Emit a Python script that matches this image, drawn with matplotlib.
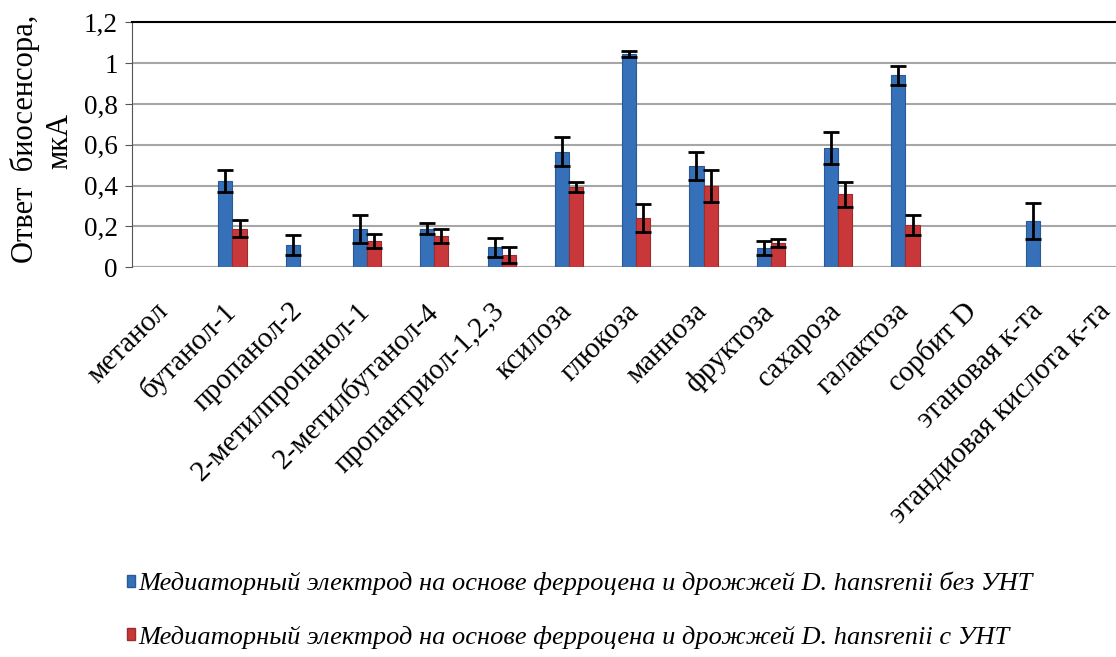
import numpy as np
import matplotlib.pyplot as plt
import matplotlib.transforms as mtransforms
from matplotlib.patches import Patch

plt.rcParams['font.family'] = ['Liberation Serif', 'DejaVu Serif']

categories = ['метанол', 'бутанол-1', 'пропанол-2', '2-метилпропанол-1',
              '2-метилбутанол-4', 'пропантриол-1,2,3', 'ксилоза', 'глюкоза',
              'манноза', 'фруктоза', 'сахароза', 'галактоза', 'сорбит D',
              'этановая к-та', 'этандиовая кислота к-та']

# без УНТ
blue_vals = [0, 0.423, 0.109, 0.186, 0.19, 0.098, 0.566, 1.043, 0.498, 0.096, 0.584, 0.94, 0, 0.227, 0]
blue_err = [0, 0.054, 0.047, 0.068, 0.026, 0.047, 0.07, 0.015, 0.069, 0.034, 0.077, 0.047, 0, 0.09, 0]
# с УНТ
red_vals = [0, 0.19, 0, 0.129, 0.152, 0.059, 0.395, 0.24, 0.398, 0.12, 0.357, 0.207, 0, 0, 0]
red_err = [0, 0.042, 0, 0.036, 0.034, 0.038, 0.025, 0.068, 0.077, 0.021, 0.063, 0.049, 0, 0, 0]

labels = ['Медиаторный электрод на основе ферроцена и дрожжей D. hansrenii без УНТ',
          'Медиаторный электрод на основе ферроцена и дрожжей D. hansrenii с УНТ']

blue = '#3570B8'
red = '#C8383A'

fig = plt.figure(figsize=(11.16, 6.57), dpi=100)
ax = fig.add_axes([131.5 / 1116, 1 - 267.3 / 657, (1141 - 131.5) / 1116, 245 / 657])

x = np.arange(len(categories))
w = 0.21
ekw = dict(ecolor='black', elinewidth=2, capsize=6, capthick=2)

bv = np.array(blue_vals)
rv = np.array(red_vals)
be = np.array(blue_err)
re = np.array(red_err)
mb = bv > 0
mr = rv > 0
ax.bar(x[mb] - w / 2, bv[mb], w, color=blue, edgecolor='#2a5a95', linewidth=0.8, zorder=3)
ax.errorbar(x[mb] - w / 2, bv[mb], yerr=be[mb], fmt='none', zorder=4, **ekw)
ax.bar(x[mr] + w / 2, rv[mr], w, color=red, edgecolor='#9e2b2d', linewidth=0.8, zorder=3)
ax.errorbar(x[mr] + w / 2, rv[mr], yerr=re[mr], fmt='none', zorder=4, **ekw)

ax.set_xlim(-0.5, len(categories) - 0.5)
ax.set_ylim(0, 1.2)
ax.set_yticks(np.arange(0, 1.21, 0.2))
ax.set_yticklabels(['0', '0,2', '0,4', '0,6', '0,8', '1', '1,2'], fontsize=19.5)
ax.yaxis.grid(True, color='#a6a6a6', linewidth=1.5, zorder=0)
ax.set_axisbelow(True)
for s in ['right', 'bottom']:
    ax.spines[s].set_visible(False)
ax.spines['top'].set_linewidth(1.5)
ax.spines['left'].set_color('#555555')
ax.spines['left'].set_linewidth(0.8)
ax.axhline(0, color='#a6a6a6', linewidth=1.5, zorder=1)
ax.tick_params(axis='y', length=5, width=0.8, color='#555555', pad=5)
ax.tick_params(axis='x', length=0, pad=22)
ax.set_xticks(x)
ax.set_xticklabels(categories, rotation=45, ha='right', rotation_mode='anchor', fontsize=21)
offset = mtransforms.ScaledTranslation(-10 / 100, 0, fig.dpi_scale_trans)
for lbl in ax.get_xticklabels():
    lbl.set_transform(lbl.get_transform() + offset)

fig.text(25 / 1116, 1 - 139 / 657, 'Ответ  биосенсора,', rotation=90,
         ha='center', va='center', fontsize=22)
fig.text(60 / 1116, 1 - 141 / 657, 'мкА', rotation=90,
         ha='center', va='center', fontsize=22)

handles = [Patch(facecolor=blue, edgecolor='#2a5a95'), Patch(facecolor=red, edgecolor='#9e2b2d')]
fig.legend(handles, labels, loc='upper left', bbox_to_anchor=(103 / 1116, 1 - 548 / 657),
           frameon=False, prop={'style': 'italic', 'size': 19}, handlelength=0.3,
           handleheight=0.3, handletextpad=0.15, labelspacing=1.15)

fig.savefig('out.png', dpi=100)
